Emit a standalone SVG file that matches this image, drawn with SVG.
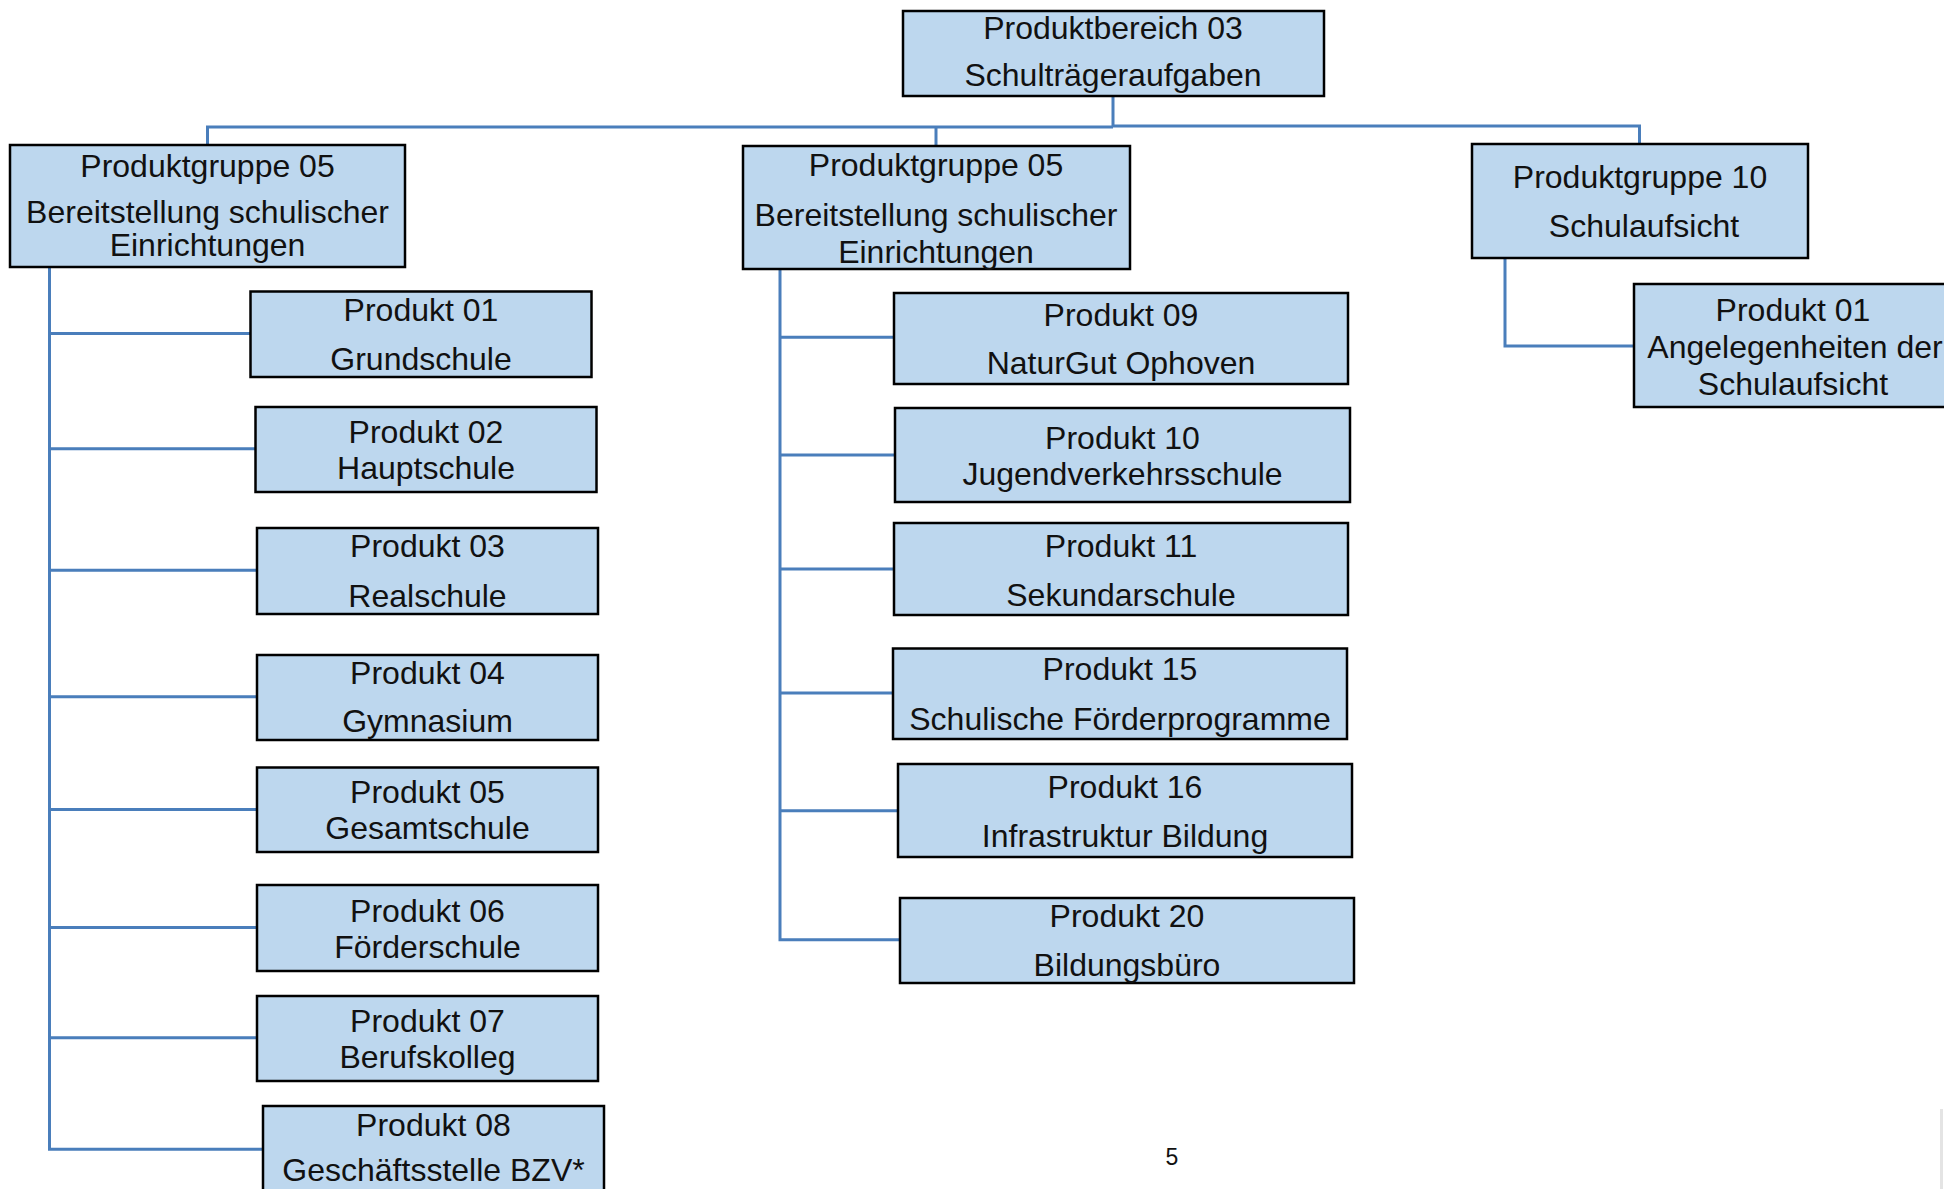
<svg xmlns="http://www.w3.org/2000/svg" width="1944" height="1189" viewBox="0 0 1944 1189">
<style>
.box{fill:#bdd7ee;stroke:#000;stroke-width:2.5}
.t{font-family:"Liberation Sans",Arial,sans-serif;font-size:32px;fill:#111;text-anchor:middle}
.c{fill:none;stroke:#4a7ebb;stroke-width:3}
</style>
<rect width="1944" height="1189" fill="#fff"/>
<g id="connectors">
<path class="c" d="M207.5,145 V127 H1113 M1113,95.5 V126 H1639.5 V144"/>
<path class="c" d="M936,126 V146"/>
<path class="c" d="M49.5,266.6 V1149.3 H263 M49.5,333.5 H250.5 M49.5,448.8 H255.5 M49.5,570.3 H257 M49.5,696.8 H257 M49.5,809.6 H257 M49.5,927.4 H257 M49.5,1037.7 H257"/>
<path class="c" d="M780,269 V939.8 H900 M780,337.2 H894 M780,455 H895 M780,569 H894 M780,693 H893 M780,810.8 H898"/>
<path class="c" d="M1505,258 V346 H1634"/>
</g>
<g id="pb03"><rect class="box" x="903" y="11" width="421" height="85"/><text class="t" x="1113" y="39">Produktbereich 03</text><text class="t" x="1113" y="86">Schulträgeraufgaben</text></g>
<g id="pg05a"><rect class="box" x="10" y="145" width="395" height="122"/><text class="t" x="207.5" y="177">Produktgruppe 05</text><text class="t" x="207.5" y="223">Bereitstellung schulischer</text><text class="t" x="207.5" y="256">Einrichtungen</text></g>
<g id="pg05b"><rect class="box" x="743" y="146" width="387" height="123"/><text class="t" x="936" y="176">Produktgruppe 05</text><text class="t" x="936" y="226">Bereitstellung schulischer</text><text class="t" x="936" y="263">Einrichtungen</text></g>
<g id="pg10"><rect class="box" x="1472" y="144" width="336" height="114"/><text class="t" x="1640" y="188">Produktgruppe 10</text><text class="t" x="1644" y="237">Schulaufsicht</text></g>
<g id="pg10p01"><rect class="box" x="1634" y="284" width="330" height="123"/><text class="t" x="1793" y="321">Produkt 01</text><text class="t" x="1795" y="358">Angelegenheiten der</text><text class="t" x="1793" y="395">Schulaufsicht</text></g>
<g id="p01"><rect class="box" x="250.5" y="291.5" width="341" height="85.5"/><text class="t" x="421" y="320.5">Produkt 01</text><text class="t" x="421" y="370">Grundschule</text></g>
<g id="p02"><rect class="box" x="255.5" y="407" width="341" height="85"/><text class="t" x="426" y="443">Produkt 02</text><text class="t" x="426" y="479">Hauptschule</text></g>
<g id="p03"><rect class="box" x="257" y="528" width="341" height="86"/><text class="t" x="427.5" y="557">Produkt 03</text><text class="t" x="427.5" y="607">Realschule</text></g>
<g id="p04"><rect class="box" x="257" y="655" width="341" height="85"/><text class="t" x="427.5" y="684">Produkt 04</text><text class="t" x="427.5" y="732">Gymnasium</text></g>
<g id="p05"><rect class="box" x="257" y="767.5" width="341" height="84.5"/><text class="t" x="427.5" y="803">Produkt 05</text><text class="t" x="427.5" y="839">Gesamtschule</text></g>
<g id="p06"><rect class="box" x="257" y="885" width="341" height="86"/><text class="t" x="427.5" y="922">Produkt 06</text><text class="t" x="427.5" y="958">Förderschule</text></g>
<g id="p07"><rect class="box" x="257" y="996" width="341" height="85"/><text class="t" x="427.5" y="1032">Produkt 07</text><text class="t" x="427.5" y="1068">Berufskolleg</text></g>
<g id="p08"><rect class="box" x="263" y="1106" width="341" height="100"/><text class="t" x="433.5" y="1136">Produkt 08</text><text class="t" x="433.5" y="1181">Geschäftsstelle BZV*</text></g>
<g id="p09"><rect class="box" x="894" y="293" width="454" height="91"/><text class="t" x="1121" y="326">Produkt 09</text><text class="t" x="1121" y="374">NaturGut Ophoven</text></g>
<g id="p10"><rect class="box" x="895" y="408" width="455" height="94"/><text class="t" x="1122.5" y="448.5">Produkt 10</text><text class="t" x="1122.5" y="484.5">Jugendverkehrsschule</text></g>
<g id="p11"><rect class="box" x="894" y="523" width="454" height="92"/><text class="t" x="1121" y="556.5">Produkt 11</text><text class="t" x="1121" y="606">Sekundarschule</text></g>
<g id="p15"><rect class="box" x="893" y="648.5" width="454" height="90.5"/><text class="t" x="1120" y="680">Produkt 15</text><text class="t" x="1120" y="730">Schulische Förderprogramme</text></g>
<g id="p16"><rect class="box" x="898" y="764" width="454" height="93"/><text class="t" x="1125" y="798">Produkt 16</text><text class="t" x="1125" y="846.5">Infrastruktur Bildung</text></g>
<g id="p20"><rect class="box" x="900" y="898" width="454" height="85"/><text class="t" x="1127" y="927">Produkt 20</text><text class="t" x="1127" y="976">Bildungsbüro</text></g>
<text x="1172" y="1165" style="font-family:'Liberation Sans',Arial,sans-serif;font-size:23px;fill:#111;text-anchor:middle">5</text>
<line x1="1941.5" y1="1109" x2="1941.5" y2="1189" stroke="#e4e4e4" stroke-width="3"/>
</svg>
